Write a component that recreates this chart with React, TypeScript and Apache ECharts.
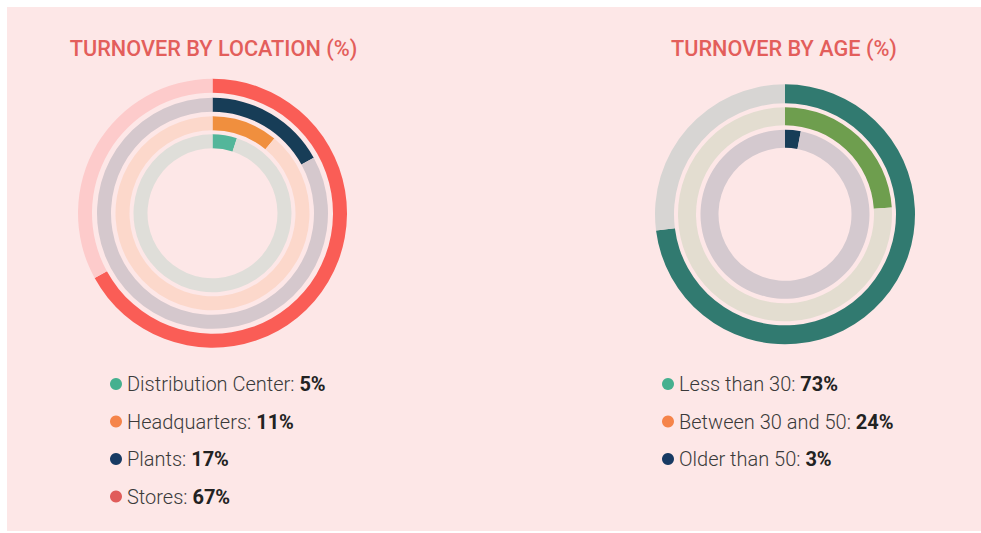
import React, { useEffect, useRef } from "react";
import * as echarts from "echarts";

// ---- data ----
const locationNames = ["Distribution Center", "Headquarters", "Plants", "Stores"];
const locationValues = [5, 11, 17, 67];
const ageNames = ["Less than 30", "Between 30 and 50", "Older than 50"];
const ageValues = [73, 24, 3];
const titles = ["TURNOVER BY LOCATION (%)", "TURNOVER BY AGE (%)"];

// ---- styles ----
const locRingColors = ["#53b69a", "#f08f3e", "#173d57", "#fa5d56"];
const locTrackColors = ["#dfded9", "#fcd8cb", "#d5c8cd", "#fdcbcb"];
const locDotColors = ["#45b08f", "#f5844a", "#173a63", "#e05c5a"];
const locRadii = [
  [65, 79],
  [83, 97],
  [101.5, 115.5],
  [120.5, 134.5],
];
const ageRingColors = ["#317a70", "#6e9e4e", "#173d57"];
const ageTrackColors = ["#d7d5d3", "#e3ddd0", "#d4c9cf"];
const ageDotColors = ["#45b08f", "#f5844a", "#173a63"];
const ageRadii = [
  [111, 130],
  [89, 107],
  [66.5, 84.5],
];

const FONT = "Roboto, 'Noto Sans', sans-serif";

function ringSeries(
  names: string[],
  values: number[],
  ring: string[],
  track: string[],
  radii: number[][],
  center: number[]
) {
  return names.map((name, i) => ({
    type: "pie",
    silent: true,
    center,
    radius: radii[i],
    startAngle: 90,
    clockwise: true,
    avoidLabelOverlap: false,
    label: { show: false },
    labelLine: { show: false },
    emphasis: { disabled: true },
    itemStyle: { borderWidth: 0 },
    data: [
      { name, value: values[i], itemStyle: { color: ring[i] } },
      { name: name + " (rest)", value: 100 - values[i], itemStyle: { color: track[i] } },
    ],
  }));
}

function legendFor(
  names: string[],
  values: number[],
  dots: string[],
  left: number,
  top: number
) {
  const map: Record<string, number> = {};
  names.forEach((n, i) => (map[n] = values[i]));
  return {
    orient: "vertical",
    left,
    top,
    padding: 0,
    icon: "circle",
    itemWidth: 12,
    itemHeight: 12,
    itemGap: 17.5,
    selectedMode: false,
    data: names.map((n, i) => ({ name: n, itemStyle: { color: dots[i] } })),
    formatter: (n: string) => `{n|${n}: }{v|${map[n]}%}`,
    textStyle: {
      fontFamily: FONT,
      rich: {
        n: { fontSize: 20, color: "#3a3a3a", fontWeight: 300, fontFamily: FONT, lineHeight: 22 },
        v: { fontSize: 20, color: "#222222", fontWeight: "bold", fontFamily: FONT, lineHeight: 22 },
      },
    },
  };
}

export default function App() {
  const ref = useRef<HTMLDivElement>(null);
  useEffect(() => {
    document.body.style.margin = "0";
    if (!ref.current) return;
    const chart = echarts.init(ref.current, null, { renderer: "svg" });
    const leftCenter = [212.5, 213.3];
    const rightCenter = [785, 214.3];
    chart.setOption({
      animation: false,
      backgroundColor: "#ffffff",
      title: [
        {
          text: titles[0],
          left: 208.5,
          top: 32,
          textAlign: "center",
          textStyle: { fontFamily: FONT, fontSize: 21.7, fontWeight: 500, color: "#e35e5b" },
        },
        {
          text: titles[1],
          left: 779,
          top: 32,
          textAlign: "center",
          textStyle: { fontFamily: FONT, fontSize: 21.7, fontWeight: 500, color: "#e35e5b" },
        },
      ],
      graphic: [
        {
          type: "rect",
          z: -10,
          silent: true,
          shape: { x: 7, y: 7, width: 974, height: 524 },
          style: { fill: "#fde7e7" },
        },
      ],
      legend: [
        legendFor(locationNames, locationValues, locDotColors, 110, 374),
        legendFor(ageNames, ageValues, ageDotColors, 662, 374),
      ],
      series: [
        ...ringSeries(locationNames, locationValues, locRingColors, locTrackColors, locRadii, leftCenter),
        ...ringSeries(ageNames, ageValues, ageRingColors, ageTrackColors, ageRadii, rightCenter),
      ],
    });
    return () => chart.dispose();
  }, []);
  return <div ref={ref} style={{ width: 981, height: 533 }} />;
}
